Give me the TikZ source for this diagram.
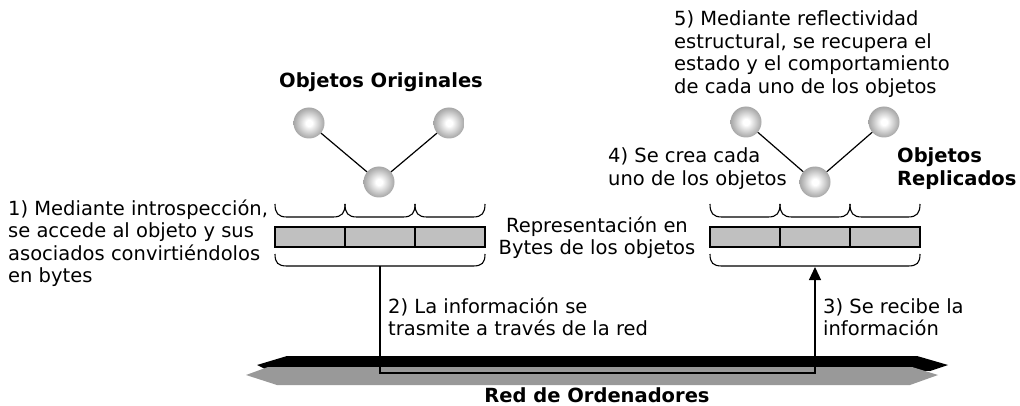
\documentclass[tikz,border=0pt]{standalone}
\usepackage{fontspec}
\setmainfont{DejaVu Sans}
\usetikzlibrary{arrows.meta}
\definecolor{barfill}{HTML}{C0C0C0}
\definecolor{netgray}{HTML}{999999}
\pgfdeclareradialshading{ballshade}{\pgfpoint{0bp}{0bp}}{color(0bp)=(white); color(5bp)=(white); color(22bp)=(black!30); color(36bp)=(black!50); color(50bp)=(black!62); color(80bp)=(black!62)}
\begin{document}
\begin{tikzpicture}[x=1pt,y=-1pt,
  txt/.style={inner sep=0pt, font=\fontsize{19.5}{22.5}\selectfont},
  bold/.style={font=\fontsize{19.5}{22.5}\selectfont\bfseries},
  ball/.style={circle, minimum size=31pt, inner sep=0pt, shading=ballshade},
  bytecell/.style={draw, fill=barfill, line width=1.1pt, minimum width=70pt, minimum height=20pt, inner sep=0pt},
  bracepath/.style={line width=1.1pt},
  link/.style={line width=1.2pt},
  conn/.style={line width=1.2pt}]
\useasboundingbox (0,0) rectangle (1020,406);

% network
\fill[black] (257,365) -- (287,356) -- (917,356) -- (948,365) -- (930,371) -- (265,369) -- cycle;
\fill[netgray] (246,375) -- (268,367) -- (912,367) -- (938,375) -- (910,385) -- (277,385) -- cycle;

% byte bars
\node[bytecell] (lc1) at (310,237) {};
\node[bytecell] (lc2) at (380,237) {};
\node[bytecell] (lc3) at (450,237) {};
\node[bytecell] (rc1) at (745,237) {};
\node[bytecell] (rc2) at (815,237) {};
\node[bytecell] (rc3) at (885,237) {};

% small braces above bars
\foreach \a in {275,345,415,710,780,850}
  \draw[bracepath] (\a,204) .. controls (\a,213) and (\a+3,217) .. (\a+12,217) -- (\a+58,217) .. controls (\a+67,217) and (\a+70,213) .. (\a+70,204);
% big braces below bars
\foreach \a in {275,710}
  \draw[bracepath] (\a,254) .. controls (\a,263) and (\a+3,266) .. (\a+12,266) -- (\a+198,266) .. controls (\a+207,266) and (\a+210,263) .. (\a+210,254);

% objects
\node[ball] (lo1) at (309,123) {};
\node[ball] (lo2) at (449,123) {};
\node[ball] (lo3) at (379,182) {};
\draw[link] (lo1) -- (lo3);
\draw[link] (lo2) -- (lo3);
\node[ball] (ro1) at (746,122) {};
\node[ball] (ro2) at (884,122) {};
\node[ball] (ro3) at (815,182) {};
\draw[link] (ro1) -- (ro3);
\draw[link] (ro2) -- (ro3);

% connector through the network
\coordinate (lout) at (380,266);
\coordinate (netl) at (380,373);
\coordinate (netr) at (815,373);
\coordinate (rin) at (815,267);
\draw[conn, -{Triangle[length=13pt,width=12pt]}] (lout) -- (netl) -- (netr) -- (rin);

% texts
\node[txt, bold, anchor=base] (origt) at (381,88) {Objetos Originales};
\node[txt, anchor=base west] (t1) at (8,215) {\begin{tabular}[t]{@{}l@{}}1) Mediante introspección,\\se accede al objeto y sus\\asociados convirtiéndolos\\en bytes\end{tabular}};
\node[txt, anchor=base] (trep) at (597,232.5) {\begin{tabular}[t]{@{}c@{}}Representación en\\Bytes de los objetos\end{tabular}};
\node[txt, anchor=base west] (t2) at (388,313) {\begin{tabular}[t]{@{}l@{}}2) La información se\\trasmite a través de la red\end{tabular}};
\node[txt, anchor=base west] (t3) at (823,313) {\begin{tabular}[t]{@{}l@{}}3) Se recibe la\\información\end{tabular}};
\node[txt, anchor=base west] (t4) at (608,163) {\begin{tabular}[t]{@{}l@{}}4) Se crea cada\\uno de los objetos\end{tabular}};
\node[txt, bold, anchor=base west] (replt) at (897,163) {\begin{tabular}[t]{@{}l@{}}Objetos\\Replicados\end{tabular}};
\node[txt, anchor=base west] (t5) at (674,26) {\begin{tabular}[t]{@{}l@{}}5) Mediante reflectividad\\estructural, se recupera el\\estado y el comportamiento\\de cada uno de los objetos\end{tabular}};
\node[txt, bold, anchor=base] (nett) at (597,402) {Red de Ordenadores};
\end{tikzpicture}
\end{document}
